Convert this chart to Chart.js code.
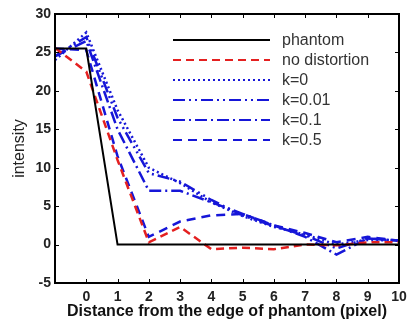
<!DOCTYPE html>
<html>
<head>
<meta charset="utf-8">
<script src="https://cdn.jsdelivr.net/npm/chart.js@4.4.1/dist/chart.umd.min.js"></script>
<style>
  body { margin: 0; background: #fff; }
  #wrap { width: 419px; height: 321px; }
</style>
</head>
<body>
<div id="wrap"><canvas id="lineChart" width="419" height="321"></canvas></div>
<script>
// distance from the edge (pixel)
const distance = [-1, 0, 1, 2, 3, 4, 5, 6, 7, 8, 9, 10];

const phantom      = [25.5, 25.5, 0, 0, 0, 0, 0, 0, 0, 0, 0, 0];
const noDistortion = [25.6, 22.5, 11, 0.3, 2.3, -0.6, -0.4, -0.6, 0, -0.1, 0.3, 0.3];
const k0           = [24, 27.6, 17.5, 10, 8, 5.5, 3.7, 2.3, 1.3, 0, 0.6, 0.5];
const k001         = [24.5, 27, 16.5, 9.3, 8.2, 5.8, 3.8, 2.4, 1.2, -0.5, 0.8, 0.5];
const k01          = [24.5, 26.5, 15, 7, 7, 5.5, 4, 2.5, 1, -1.3, 0.8, 0.5];
const k05          = [25.5, 25.3, 11.5, 1, 3, 3.8, 4, 2.5, 1.5, 0.3, 1, 0.5];

const xTicks = [0, 1, 2, 3, 4, 5, 6, 7, 8, 9, 10];
const yTicks = [-5, 0, 5, 10, 15, 20, 25, 30];

const BLUE = '#1616d8';
const RED = '#e42020';
const FONT = '"Liberation Sans", Arial, sans-serif';

function pts(arr) {
  return arr.map((v, i) => ({x: distance[i], y: v}));
}

// frame, inward ticks and the legend inside the plot
const framePlugin = {
  id: 'frame',
  afterDraw(chart) {
    const c = chart.ctx;
    const a = chart.chartArea;
    const xs = chart.scales.x, ys = chart.scales.y;
    c.save();
    c.strokeStyle = '#000';
    c.lineWidth = 2;
    c.setLineDash([]);
    c.strokeRect(a.left, a.top, a.right - a.left, a.bottom - a.top);
    c.lineWidth = 1;
    c.beginPath();
    xTicks.forEach(t => {
      const px = Math.round(xs.getPixelForValue(t)) + 0.5;
      c.moveTo(px, a.bottom); c.lineTo(px, a.bottom - 4);
      c.moveTo(px, a.top); c.lineTo(px, a.top + 4);
    });
    yTicks.forEach(t => {
      const py = Math.round(ys.getPixelForValue(t)) + 0.5;
      c.moveTo(a.left, py); c.lineTo(a.left + 4, py);
      c.moveTo(a.right, py); c.lineTo(a.right - 4, py);
    });
    c.stroke();

    // legend
    const x0 = 173, x1 = 270, tx = 282;
    const rows = [40, 60, 80, 100, 120, 140];
    c.font = '16px ' + FONT;
    c.textBaseline = 'middle';
    chart.data.datasets.forEach((ds, i) => {
      const y = rows[i];
      c.strokeStyle = ds.borderColor;
      c.lineWidth = 2;
      c.setLineDash(ds.borderDash || []);
      c.beginPath();
      c.moveTo(x0, y); c.lineTo(x1, y);
      c.stroke();
      c.setLineDash([]);
      c.fillStyle = '#333';
      c.fillText(ds.label, tx, y + 1);
    });
    c.restore();
  }
};

const ctx = document.getElementById('lineChart').getContext('2d');
const lineChart = new Chart(ctx, {
  type: 'line',
  data: {
    datasets: [
      { label: 'phantom', data: pts(phantom), borderColor: '#000', borderWidth: 2 },
      { label: 'no distortion', data: pts(noDistortion), borderColor: RED, borderWidth: 2.5, borderDash: [8, 5] },
      { label: 'k=0', data: pts(k0), borderColor: BLUE, borderWidth: 2.5, borderDash: [2, 3] },
      { label: 'k=0.01', data: pts(k001), borderColor: BLUE, borderWidth: 2.5, borderDash: [12, 4, 2, 4, 2, 4] },
      { label: 'k=0.1', data: pts(k01), borderColor: BLUE, borderWidth: 2.5, borderDash: [12, 4, 2, 4] },
      { label: 'k=0.5', data: pts(k05), borderColor: BLUE, borderWidth: 2.5, borderDash: [9, 6] }
    ]
  },
  options: {
    responsive: false,
    animation: false,
    layout: { padding: { left: 0, right: 20, top: 14, bottom: 0 } },
    elements: { point: { radius: 0 }, line: { tension: 0 } },
    plugins: {
      legend: { display: false },
      tooltip: { enabled: false }
    },
    scales: {
      x: {
        type: 'linear',
        min: -1,
        max: 10,
        grid: { display: false, drawTicks: false },
        border: { display: false },
        afterFit: s => { s.height = 38; },
        afterBuildTicks: s => { s.ticks = xTicks.map(v => ({value: v})); },
        ticks: {
          padding: 6,
          color: '#222',
          font: { family: FONT, size: 14, weight: 'bold' }
        },
        title: {
          display: true,
          text: 'Distance from the edge of phantom (pixel)',
          color: '#111',
          padding: { top: 0, bottom: 0 },
          font: { family: FONT, size: 16, weight: 'bold' }
        }
      },
      y: {
        min: -5,
        max: 30,
        grid: { display: false, drawTicks: false },
        border: { display: false },
        afterFit: s => { s.width = 55; },
        afterBuildTicks: s => { s.ticks = yTicks.map(v => ({value: v})); },
        ticks: {
          padding: 4,
          color: '#222',
          font: { family: FONT, size: 14, weight: 'bold' }
        },
        title: {
          display: true,
          text: 'intensity',
          color: '#222',
          padding: { top: 10, bottom: 0 },
          font: { family: FONT, size: 16 }
        }
      }
    }
  },
  plugins: [framePlugin]
});
</script>
</body>
</html>
